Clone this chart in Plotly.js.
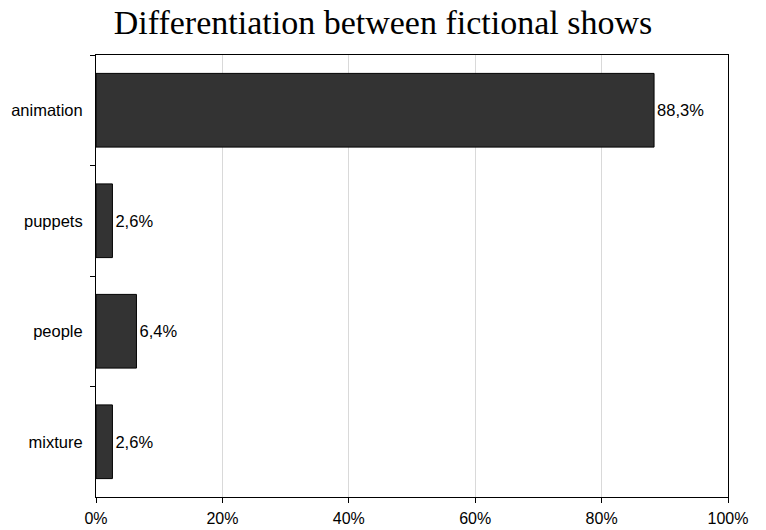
<!DOCTYPE html>
<html>
<head>
<meta charset="utf-8">
<script src="https://cdn.plot.ly/plotly-3.0.1.min.js"></script>
<style>html,body{margin:0;padding:0;background:#fff;}#chart{width:766px;height:530px;}</style>
</head>
<body>
<div id="chart"></div>
<script>
var categories = ["animation", "puppets", "people", "mixture"];
var values = [88.3, 2.6, 6.4, 2.6];
var xTickValues = [0, 20, 40, 60, 80, 100];
var xTickLabels = ["0%", "20%", "40%", "60%", "80%", "100%"];

var trace = {
  type: "bar",
  orientation: "h",
  y: categories,
  x: values,
  marker: {color: "#333333", line: {color: "#000000", width: 1}},
  width: 0.667,
  texttemplate: "%{x:.1f}%",
  textposition: "outside",
  cliponaxis: false,
  textfont: {family: "Liberation Sans, Arial, sans-serif", size: 16.5, color: "#000"},
  hoverinfo: "none"
};

var layout = {
  width: 766, height: 530,
  separators: ",.",
  margin: {l: 96, r: 38, t: 55, b: 33},
  paper_bgcolor: "#fff", plot_bgcolor: "#fff",
  showlegend: false,
  title: {
    text: "Differentiation between fictional shows",
    font: {family: "Liberation Serif, Times New Roman, serif", size: 34, color: "#000"},
    x: 0.5, xref: "container", y: 0.958, yref: "container", yanchor: "middle"
  },
  xaxis: {
    range: [0, 100],
    tickvals: xTickValues,
    ticktext: xTickLabels,
    showgrid: true, gridcolor: "#d9d9d9", gridwidth: 1,
    zeroline: false,
    showline: true, linecolor: "#000", linewidth: 1, mirror: true,
    ticks: "outside", ticklen: 5, tickcolor: "#000",
    ticklabelstandoff: 2,
    tickfont: {family: "Liberation Sans, Arial, sans-serif", size: 16, color: "#000"},
    fixedrange: true
  },
  yaxis: {
    type: "category",
    categoryarray: categories,
    autorange: "reversed",
    showgrid: false,
    zeroline: false,
    showline: true, linecolor: "#000", linewidth: 1, mirror: true,
    ticks: "outside", ticklen: 5, tickcolor: "#000",
    tickson: "boundaries",
    ticklabelstandoff: 9,
    tickfont: {family: "Liberation Sans, Arial, sans-serif", size: 16.5, color: "#000"},
    fixedrange: true
  },
  bargap: 0.333
};

Plotly.newPlot("chart", [trace], layout, {displayModeBar: false, staticPlot: true});
</script>
</body>
</html>
